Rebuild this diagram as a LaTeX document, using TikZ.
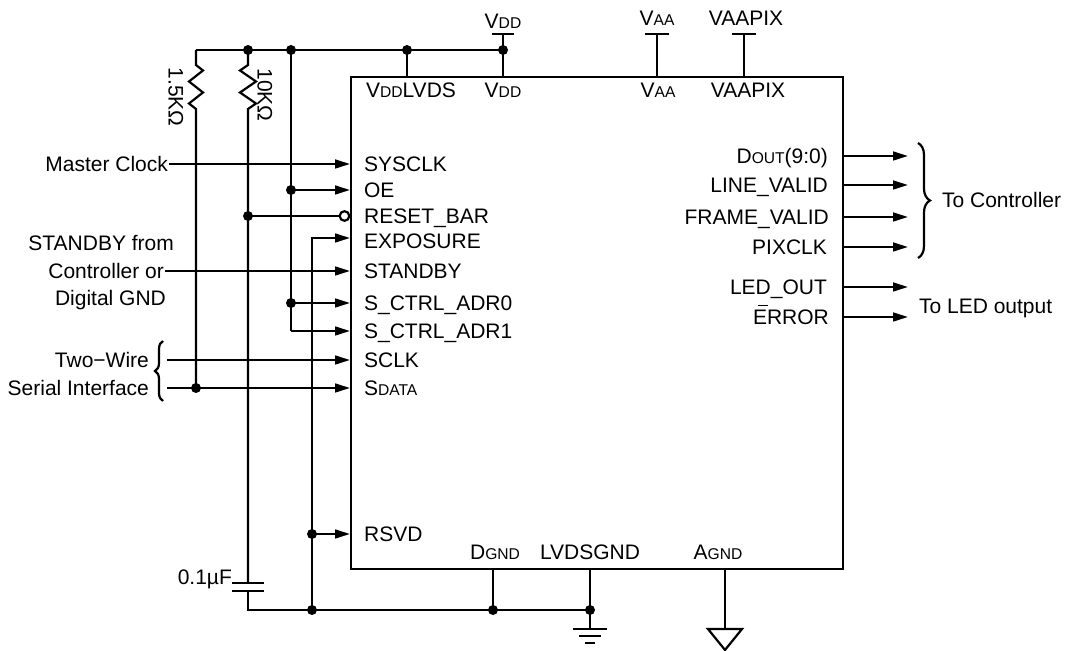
\documentclass[tikz,border=0pt]{standalone}
\usepackage{fontspec}
\setmainfont{Liberation Sans}
\usetikzlibrary{arrows.meta,decorations.pathreplacing,calc}
\newcommand\smc[1]{{\fontsize{7.8}{9}\selectfont #1}}
\begin{document}
\begin{tikzpicture}[x=0.5pt,y=-0.5pt,line width=1.1pt,
  font=\fontsize{10.5}{12}\selectfont,
  lbl/.style={inner sep=0pt,text height=7.5pt,text depth=0pt},
  dot/.style={circle,fill,inner sep=0pt,minimum size=5pt},
  pin/.style={-{Triangle[length=7.5pt,width=4.4pt]}},
  brc/.style={decorate,decoration={brace,amplitude=#1}},
]
\useasboundingbox (0,0) rectangle (1067,651);
% chip
\node[draw,anchor=north west,minimum width=246pt,minimum height=246pt,inner sep=0pt] (chip) at (350,76) {};
% left pins
\foreach \n/\y in {sysclk/164,oe/190,rst/216,expo/238,stby/271,adr0/303,adr1/331,sclk/360,sdata/388,rsvd/534}
  \coordinate (\n) at (350,\y);
% right pins
\foreach \n/\y in {dout/156,lv/185,fv/217,pclk/247,led/287,err/317}{
  \coordinate (\n) at (842,\y);
  \coordinate (\n E) at (908,\y);
}
% top pins and supplies
\coordinate (vddlvds) at (407,76);
\coordinate (vdd) at (503,76);
\coordinate (vaa) at (657,76);
\coordinate (vaapix) at (744,76);
\coordinate (vddbar) at (503,34);
\coordinate (vaabar) at (657,34);
\coordinate (vaapixbar) at (744,34);
% bottom pins
\coordinate (dgnd) at (493,568);
\coordinate (lvdsg) at (590,568);
\coordinate (agnd) at (725,568);
\coordinate (gndtop) at (590,629);
\coordinate (agndT) at (725,629);
% junctions
\coordinate (t196) at (196,50);
\coordinate (j248t) at (248,50);
\coordinate (j291t) at (291,50);
\coordinate (j407t) at (407,50);
\coordinate (j503t) at (503,50);
\coordinate (jsd) at (196,388);
\coordinate (jrst) at (248,216);
\coordinate (joe) at (291,190);
\coordinate (jadr0) at (291,303);
\coordinate (adr1c) at (291,331);
\coordinate (expoc) at (312,238);
\coordinate (jrsvd) at (312,534);
\coordinate (jb312) at (312,610);
\coordinate (jb493) at (493,610);
\coordinate (jlvds) at (590,610);
\coordinate (capT) at (248,583);
\coordinate (capB) at (248,591);
\coordinate (cb248) at (248,610);
\coordinate (scL) at (167,360);
\coordinate (sdL) at (167,388);

% supply rail
\draw (t196) -- (j503t);
\draw (j407t) -- (vddlvds);
\draw (vddbar) -- (vdd);
\draw (vaabar) -- (vaa);
\draw (vaapixbar) -- (vaapix);
\draw (vddbar) +(-11,0) -- +(11,0);
\draw (vaabar) +(-12,0) -- +(12,0);
\draw (vaapixbar) +(-12,0) -- +(12,0);
\node[lbl] (vddT) at (503,21) {V\smc{DD}};
\node[lbl] (vaaT) at (657,18) {V\smc{AA}};
\node[lbl] (vaapixT) at (746,18) {VAAPIX};

% resistors
\draw (t196) -- ++(0,15) -- ++(7,5.5) -- ++(-14,11) -- ++(14,11) -- ++(-14,11) -- ++(7,5.5) -- (jsd);
\draw (j248t) -- ++(0,15) -- ++(-8,5.5) -- ++(16,11) -- ++(-16,11) -- ++(16,11) -- ++(-8,5.5) -- (jrst) -- (capT);
\node[lbl,rotate=-90] (r1) at (176,97) {1.5KΩ};
\node[lbl,rotate=-90] (r2) at (265,95) {10KΩ};

% capacitor and ground rail
\draw (capT) +(-16,0) -- +(16,0);
\draw (capB) +(-16,0) -- +(16,0);
\draw (capB) -- (cb248) -- (jlvds);
\node[lbl,anchor=east] (capl) at (233,577) {0.1µF};

% vertical buses
\draw (j291t) -- (adr1c);
\draw[pin] (adr1c) -- (adr1);
\draw[pin] (joe) -- (oe);
\draw[pin] (jadr0) -- (adr0);
\draw[pin] (jb312) -- (expoc) -- (expo);
\draw[pin] (jrsvd) -- (rsvd);
\node[circle,draw,fill=white,inner sep=0pt,minimum size=4.8pt] (rstc) at (344.5,216) {};
\draw (jrst) -- (rstc.west);

% left inputs
\node[lbl,anchor=east] (mclk) at (169,164) {Master Clock};
\draw[pin] (mclk.east) -- (sysclk);
\node[lbl,anchor=east] (sb1) at (175,243) {STANDBY from};
\node[lbl,anchor=east] (sb2) at (165,271) {Controller or};
\node[lbl,anchor=east] (sb3) at (167,298) {Digital GND};
\draw[pin] (sb2.east) -- (stby);
\node[lbl,anchor=east] (tw1) at (150,360) {Two−Wire};
\node[lbl,anchor=east] (tw2) at (150,388) {Serial Interface};
\draw[brc=4pt] (163,401) -- (163,341);
\draw[pin] (scL) -- (sclk);
\draw[pin] (sdL) -- (sdata);

% pin labels inside
\foreach \n/\t in {sysclk/SYSCLK,oe/OE,rst/RESET\_BAR,stby/STANDBY,adr0/S\_CTRL\_ADR0,adr1/S\_CTRL\_ADR1,sclk/SCLK,rsvd/RSVD}
  \node[lbl,anchor=west] (\n L) at ($(\n)+(13,0)$) {\t};
\node[lbl,anchor=west] (expoL) at (363,241) {EXPOSURE};
\node[lbl,anchor=west] (sdataL) at (363,388) {S\smc{DATA}};
\node[lbl] (vddlvdsL) at (411,90) {V\smc{DD}LVDS};
\node[lbl] (vddL) at (503,90) {V\smc{DD}};
\node[lbl] (vaaL) at (658,90) {V\smc{AA}};
\node[lbl] (vaapixL) at (748,90) {VAAPIX};
\node[lbl] (dgndL) at (495,552) {D\smc{GND}};
\node[lbl] (lvdsL) at (590,552) {LVDSGND};
\node[lbl] (agndL) at (718,552) {A\smc{GND}};

% right outputs
\foreach \n in {dout,lv,fv,pclk,led,err}
  \draw[pin] (\n) -- (\n E);
\node[lbl,anchor=east] (doutL) at (829,156) {D\smc{OUT}(9:0)};
\node[lbl,anchor=east] (lvL) at (829,185) {LINE\_VALID};
\node[lbl,anchor=east] (fvL) at (830,217) {FRAME\_VALID};
\node[lbl,anchor=east] (pclkL) at (828,247) {PIXCLK};
\node[lbl,anchor=east] (ledL) at (828,287) {LED\_OUT};
\node[lbl,anchor=east] (errL) at (830,317) {ERROR};
\draw[line width=0.6pt] ([xshift=3pt,yshift=1.6pt]errL.north west) -- ++(5pt,0);
\draw[brc=6pt] (918,143) -- (918,258);
\node[lbl,anchor=west] (toc) at (941,200) {To Controller};
\node[lbl,anchor=west] (tol) at (918,306) {To LED output};

% bottom pins and grounds
\draw (dgnd) -- (jb493);
\draw (lvdsg) -- (gndtop);
\draw (gndtop) +(-17,0) -- +(17,0);
\draw (gndtop) +(-11,7) -- +(11,7);
\draw (gndtop) +(-5,14) -- +(5,14);
\draw (agnd) -- (agndT);
\draw[line join=miter] (agndT) +(-17,0) -- +(17,0) -- +(0,21) -- cycle;

% dots
\foreach \p in {j248t,j291t,j407t,j503t,jsd,jrst,joe,jadr0,jrsvd,jb312,jb493,jlvds}
  \node[dot] at (\p) {};
\end{tikzpicture}
\end{document}
